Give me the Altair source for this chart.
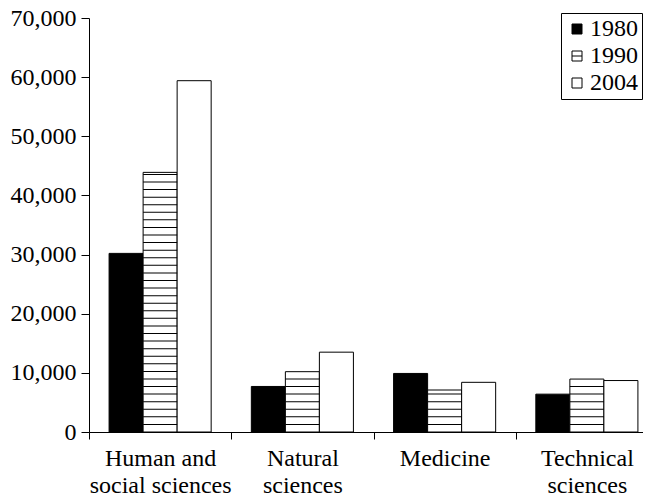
import altair as alt
import pandas as pd

categories = ["Human and\nsocial sciences", "Natural\nsciences", "Medicine", "Technical\nsciences"]
years = ["1980", "1990", "2004"]
v1980 = [30200, 7700, 9900, 6400]
v1990 = [43900, 10200, 7100, 8950]
v2004 = [59400, 13500, 8400, 8700]
y_ticks = [0, 10000, 20000, 30000, 40000, 50000, 60000, 70000]
fill_colors = ["black", "white", "white"]
stroke_colors = ["black", "black", "black"]
legend_shapes = ["square", "M-1,-1H1V1H-1Z M-1,0H1", "square"]
stripe_step = 1281

rows = []
for year, vals in zip(years, [v1980, v1990, v2004]):
    for c, v in zip(categories, vals):
        rows.append({"field": c, "year": year, "value": v})
df = pd.DataFrame(rows)

FONT = "Liberation Serif, Times New Roman, DejaVu Serif, serif"

x = alt.X(
    "field:N",
    sort=categories,
    scale=alt.Scale(range=[0, 569], paddingInner=0, paddingOuter=0),
    axis=alt.Axis(
        title=None,
        labelExpr="split(datum.label, '\\n')",
        labelAngle=0,
        tickBand="extent",
        tickSize=7,
        labelPadding=7,
        labelLineHeight=27,
        labelFont=FONT,
        labelFontSize=24,
    ),
)
xoff = alt.XOffset(
    "year:N",
    sort=years,
    scale=alt.Scale(domain=years, paddingInner=0, paddingOuter=0.59),
)
leg = alt.Legend(title=None)
fill = alt.Fill("year:N", scale=alt.Scale(domain=years, range=fill_colors), legend=leg)
stroke = alt.Stroke("year:N", scale=alt.Scale(domain=years, range=stroke_colors), legend=leg)
shape = alt.Shape("year:N", scale=alt.Scale(domain=years, range=legend_shapes), legend=leg)

yscale = alt.Scale(domain=[0, 70000], nice=False)
yaxis = alt.Axis(
    title=None,
    values=y_ticks,
    labelExpr="format(datum.value, ',')",
    tickSize=8,
    labelPadding=5,
    grid=False,
    labelFont=FONT,
    labelFontSize=24,
)

base = alt.Chart(df)

points = base.transform_calculate(half="datum.value / 2").mark_point(
    filled=True, size=100, strokeWidth=1, opacity=1
).encode(
    x=x,
    xOffset=xoff,
    y=alt.Y("half:Q", scale=yscale, axis=yaxis),
    fill=fill,
    stroke=stroke,
    shape=shape,
)

bars = base.mark_bar(strokeWidth=1).encode(
    x=x,
    xOffset=xoff,
    y=alt.Y("value:Q", scale=yscale, axis=yaxis),
    fill=fill,
    stroke=stroke,
)

stripes = base.transform_filter("datum.year == '1990'").transform_calculate(
    stripes=f"sequence({stripe_step}, datum.value, {stripe_step})"
).transform_flatten(["stripes"]).mark_tick(
    orient="horizontal", color="black", thickness=1, size=34, opacity=1
).encode(
    x=x,
    xOffset=xoff,
    y=alt.Y("stripes:Q", scale=yscale, axis=yaxis),
)

chart = alt.layer(points, bars, stripes).properties(
    width=554,
    height=414,
    padding={"left": 81, "top": 10, "right": 0, "bottom": 64},
    autosize=alt.AutoSizeParams(type="none"),
).configure(font=FONT).configure_view(stroke=None).configure_axis(
    labelFont=FONT,
    labelFontSize=24,
    labelColor="black",
    domainColor="black",
    tickColor="black",
    domainWidth=1,
    tickWidth=1,
).configure_legend(
    orient="none",
    legendX=472,
    legendY=-5,
    strokeColor="black",
    padding=4,
    labelFont=FONT,
    labelFontSize=24,
    labelColor="black",
    symbolSize=100,
    symbolStrokeColor="black",
    symbolStrokeWidth=1,
    rowPadding=3,
    labelOffset=1,
)

chart.save("out.html", embed_options={"renderer": "svg", "actions": False})
